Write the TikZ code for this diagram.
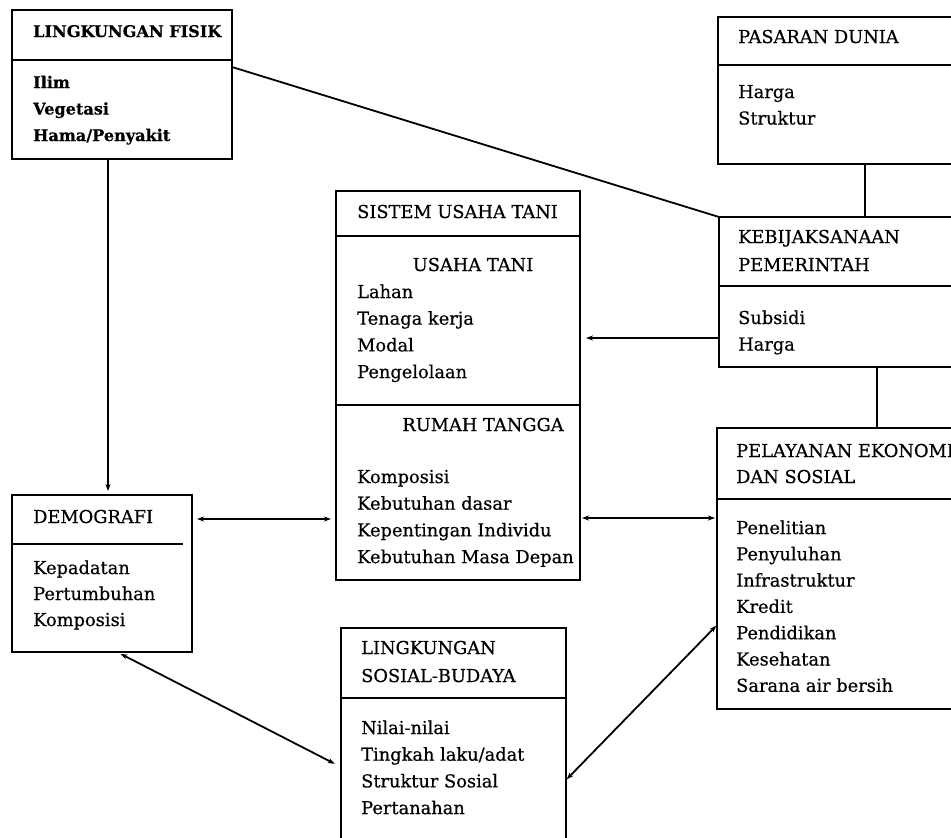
\documentclass[tikz,border=0pt]{standalone}
\usepackage{fontspec}
\setmainfont{DejaVu Serif}[FakeBold=0.5]
\usetikzlibrary{arrows.meta,calc}
\begin{document}
\begin{tikzpicture}[x=1pt,y=-1pt,
  box/.style={draw, line width=1.8pt, rectangle, inner sep=0pt, outer sep=0pt, anchor=north west},
  sepline/.style={line width=1.6pt},
  txt/.style={anchor=base west, inner sep=0pt, font=\fontsize{17.8}{20}\selectfont},
  ctxt/.style={anchor=base, inner sep=0pt, font=\fontsize{17.8}{20}\selectfont},
  btxt/.style={anchor=base west, inner sep=0pt, font=\fontsize{16.1}{20}\selectfont\bfseries},
  link/.style={line width=1.8pt},
  heavy/.style={line width=2.8pt},
  tip/.style={-{Stealth[length=7pt,width=5pt]}},
  twotip/.style={{Stealth[length=7pt,width=5pt]}-{Stealth[length=7pt,width=5pt]}}
]
\useasboundingbox (0,0) rectangle (951,838);
\clip (0,0) rectangle (951,838);
\fill[white] (0,0) rectangle (951,838);

% ---------- boxes ----------
\node[box, minimum width=220pt, minimum height=149pt] (fisik) at (12,10) {};
\node[box, minimum width=262pt, minimum height=147pt] (pasar) at (718,17) {};
\node[box, minimum width=262pt, minimum height=150pt] (kebij) at (719,217) {};
\node[box, minimum width=244pt, minimum height=389pt] (sistem) at (336,191) {};
\node[box, minimum width=180pt, minimum height=157pt] (demog) at (12,495) {};
\node[box, minimum width=263pt, minimum height=281pt] (pelay) at (717,428) {};
\node[box, minimum width=225pt, minimum height=232pt] (sosial) at (341,628) {};

% ---------- dividers ----------
\draw[sepline] (fisik.west |- 0,60) -- (fisik.east |- 0,60);
\draw[sepline] (pasar.west |- 0,65) -- (pasar.east |- 0,65);
\draw[sepline] (kebij.west |- 0,286) -- (kebij.east |- 0,286);
\draw[sepline] (sistem.west |- 0,236) -- (sistem.east |- 0,236);
\draw[sepline] (sistem.west |- 0,405) -- (sistem.east |- 0,405);
\draw[sepline] (demog.west |- 0,544) -- (183,544);
\draw[sepline] (pelay.west |- 0,499) -- (pelay.east |- 0,499);
\draw[sepline] (sosial.west |- 0,698) -- (sosial.east |- 0,698);

% ---------- texts ----------
\node[btxt] (fisik-t) at (33,37) {LINGKUNGAN FISIK};
\foreach \t [count=\i from 0] in {Ilim,Vegetasi,Hama/Penyakit}
  \node[btxt] (fisik-\i) at (33,{88+\i*26.5}) {\t};

\node[txt] (pasar-t) at (738,43) {PASARAN DUNIA};
\foreach \t [count=\i from 0] in {Harga,Struktur}
  \node[txt] (pasar-\i) at (738,{98+\i*26.5}) {\t};

\node[txt] (kebij-t1) at (738,243) {KEBIJAKSANAAN};
\node[txt] (kebij-t2) at (738,271) {PEMERINTAH};
\foreach \t [count=\i from 0] in {Subsidi,Harga}
  \node[txt] (kebij-\i) at (738,{324+\i*26.5}) {\t};

\node[txt] (sistem-t) at (357,218) {SISTEM USAHA TANI};
\node[ctxt] (sistem-u) at (473,271) {USAHA TANI};
\foreach \t [count=\i from 0] in {Lahan,Tenaga kerja,Modal,Pengelolaan}
  \node[txt] (sistem-a\i) at (357,{298+\i*26.7}) {\t};
\node[ctxt] (sistem-r) at (483,431) {RUMAH TANGGA};
\foreach \t [count=\i from 0] in {Komposisi,Kebutuhan dasar,Kepentingan Individu,Kebutuhan Masa Depan}
  \node[txt] (sistem-b\i) at (357,{483+\i*26.7}) {\t};

\node[txt] (demog-t) at (33,523) {DEMOGRAFI};
\foreach \t [count=\i from 0] in {Kepadatan,Pertumbuhan,Komposisi}
  \node[txt] (demog-\i) at (33,{574+\i*26}) {\t};

\node[txt] (pelay-t1) at (736,457) {PELAYANAN EKONOMI};
\node[txt] (pelay-t2) at (736,483) {DAN SOSIAL};
\foreach \t [count=\i from 0] in {Penelitian,Penyuluhan,Infrastruktur,Kredit,Pendidikan,Kesehatan,Sarana air bersih}
  \node[txt] (pelay-\i) at (736,{534+\i*26.3}) {\t};

\node[txt] (sosial-t1) at (361,654) {LINGKUNGAN};
\node[txt] (sosial-t2) at (361,682) {SOSIAL-BUDAYA};
\foreach \t [count=\i from 0] in {Nilai-nilai,Tingkah laku/adat,Struktur Sosial,Pertanahan}
  \node[txt] (sosial-\i) at (361,{734+\i*26.7}) {\t};

% ---------- connectors ----------
\draw[link] (fisik.east |- 0,67) -- (kebij.north west);
\draw[heavy] (pasar.south -| 865,0) -- (kebij.north -| 865,0);
\draw[link, tip, shorten >=6pt] (kebij.west |- 0,338) -- (sistem.east |- 0,338);
\draw[heavy] (kebij.south -| 877,0) -- (pelay.north -| 877,0);
\draw[heavy, tip, shorten >=4pt] (fisik.south -| 108,0) -- (demog.north -| 108,0);
\draw[link, twotip, shorten <=5pt, shorten >=5pt] (demog.east |- 0,519) -- (sistem.west |- 0,519);
\draw[link, twotip, shorten <=2pt, shorten >=2pt] (sistem.east |- 0,518) -- (pelay.west |- 0,518);
\draw[link, twotip, shorten <=4pt, shorten >=7pt] (demog.south -| 117,0) -- (sosial.west |- 0,767);
\draw[link, twotip, shorten <=1pt, shorten >=1pt] (sosial.east |- 0,780) -- (pelay.west |- 0,625);
\end{tikzpicture}
\end{document}
